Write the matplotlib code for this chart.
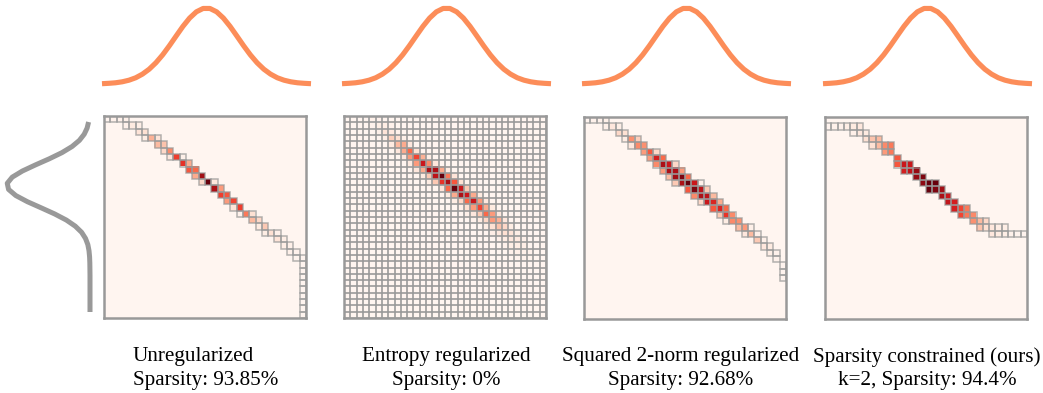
import numpy as np
import matplotlib
matplotlib.use("Agg")
import matplotlib.pyplot as plt
from matplotlib.patches import Rectangle

## marginals (peak normalised to 1)
b_top = [0.004, 0.009, 0.016, 0.029, 0.05, 0.082, 0.13, 0.195, 0.28, 0.384, 0.504,
         0.632, 0.758, 0.868, 0.95, 0.994, 0.994, 0.95, 0.868, 0.758, 0.632, 0.504,
         0.384, 0.28, 0.195, 0.13, 0.082, 0.05, 0.029, 0.016, 0.009, 0.004]
a_left = [0.017, 0.035, 0.07, 0.128, 0.216, 0.338, 0.49, 0.657, 0.815, 0.937, 0.997,
          0.981, 0.894, 0.755, 0.589, 0.426, 0.285, 0.177, 0.101, 0.054, 0.026, 0.012,
          0.005, 0.002, 0.001, 0.0, 0.0, 0.0, 0.0, 0.0, 0.0, 0.0]

## transport plans: row r holds nonzeros at columns start[r] .. start[r]+len(vals[r])-1
unreg_start = [0, 3, 5, 6, 8, 9, 10, 12, 13, 14, 15, 17, 18, 19, 20, 21, 23, 24, 25, 27,
               28, 29, 30, 31, 31, 31, 31, 31, 31, 31, 31, 31]
unreg_vals = [[0.01, 0.02, 0.02, 0.03], [0.02, 0.06, 0.04], [0.1, 0.12], [0.05, 0.28, 0.1],
              [0.25, 0.22], [0.15, 0.4], [0.08, 0.62, 0.03], [0.66, 0.3], [0.55, 0.5],
              [0.3, 0.88], [0.15, 1.0, 0.08], [0.85, 0.35], [0.62, 0.55], [0.35, 0.6],
              [0.1, 0.62], [0.02, 0.45, 0.12], [0.25, 0.15], [0.06, 0.2], [0.05, 0.12, 0.03],
              [0.1, 0.04], [0.04, 0.03], [0.03, 0.02], [0.015, 0.01], [0.005], [0.005],
              [0.005], [0.005], [0.005], [0.005], [0.005], [0.005], [0.005]]

entropy_start = [3, 4, 5, 6, 7, 8, 9, 10, 11, 12, 13, 15, 16, 17, 18, 19, 20, 22, 23, 24,
                 25, 26, 27]
entropy_vals = [[0.01, 0.03, 0.02, 0.01], [0.02, 0.05, 0.05, 0.02], [0.03, 0.1, 0.07, 0.02],
                [0.04, 0.18, 0.12, 0.03], [0.06, 0.25, 0.3, 0.08], [0.08, 0.3, 0.5, 0.12],
                [0.08, 0.35, 0.6, 0.28, 0.04], [0.06, 0.35, 0.75, 0.4, 0.08],
                [0.08, 0.3, 0.85, 0.85, 0.3, 0.06], [0.06, 0.2, 0.8, 1.0, 0.45, 0.1],
                [0.05, 0.2, 0.65, 0.85, 0.55, 0.12, 0.02], [0.1, 0.5, 1.0, 0.75, 0.2, 0.04],
                [0.06, 0.3, 0.85, 0.75, 0.3, 0.06], [0.05, 0.15, 0.5, 0.75, 0.35, 0.08],
                [0.03, 0.12, 0.35, 0.6, 0.3, 0.06], [0.03, 0.08, 0.2, 0.5, 0.35, 0.08],
                [0.02, 0.06, 0.15, 0.35, 0.28, 0.08], [0.05, 0.12, 0.22, 0.15, 0.05],
                [0.04, 0.08, 0.12, 0.1, 0.04], [0.03, 0.05, 0.08, 0.07, 0.03],
                [0.02, 0.04, 0.05, 0.04], [0.02, 0.03, 0.03, 0.02], [0.01, 0.02, 0.015]]
entropy_floor = 0.001  # every other cell is tiny but nonzero

sq2_start = [0, 3, 5, 6, 7, 9, 10, 11, 12, 13, 14, 16, 17, 18, 20, 21, 22, 24, 25, 27,
             28, 29, 30, 31, 31, 31]
sq2_vals = [[0.01, 0.02, 0.02, 0.03], [0.03, 0.08, 0.04], [0.15, 0.12], [0.05, 0.38, 0.18],
            [0.08, 0.4, 0.38], [0.35, 0.55, 0.15], [0.35, 0.72, 0.5],
            [0.4, 0.85, 0.75, 0.15], [0.35, 0.85, 0.85, 0.35], [0.25, 0.88, 0.95, 0.5],
            [0.2, 0.85, 1.0, 0.75, 0.03], [0.55, 0.95, 0.8, 0.2], [0.4, 0.85, 0.8, 0.25],
            [0.15, 0.75, 0.7, 0.3], [0.55, 0.7, 0.5], [0.2, 0.65, 0.4], [0.05, 0.4, 0.38],
            [0.25, 0.35, 0.03], [0.08, 0.25, 0.03], [0.2, 0.03], [0.08, 0.06], [0.04, 0.02],
            [0.02], [0.01], [0.01], [0.01]]

sparse_start = [None, 0, 4, 6, 7, 9, 11, 11, 12, 14, 15, 16, 18, 19, 20, 21, 23, 24, 26]
sparse_vals = [[], [0.01, 0.02, 0.02, 0.04, 0.06, 0.08], [0.03, 0.08, 0.06],
               [0.12, 0.22, 0.25], [0.12, 0.25, 0.4, 0.45], [0.35, 0.45], [0.55],
               [0.55, 0.75, 0.75], [0.72, 0.78, 0.9], [0.9, 0.95], [0.92, 1.0, 1.0],
               [1.0, 0.95, 0.88], [0.85, 0.75], [0.78, 0.72], [0.72, 0.6, 0.45],
               [0.6, 0.45, 0.4], [0.38, 0.25, 0.15], [0.22, 0.12, 0.08, 0.05, 0.04],
               [0.08, 0.06, 0.04, 0.02, 0.01, 0.01]]

titles = ["Unregularized", "Entropy regularized", "Squared 2-norm regularized",
          "Sparsity constrained (ours)"]
subtitles = ["Sparsity: 93.85%", "Sparsity: 0%", "Sparsity: 92.68%", "k=2, Sparsity: 94.4%"]

n = 32
W, H = 1043, 393


def build(start, vals, floor=0.0):
    P = np.full((n, n), floor)
    for r, (s, v) in enumerate(zip(start, vals)):
        if s is None:
            continue
        P[r, s:s + len(v)] = v
    return P


plans = [build(unreg_start, unreg_vals), build(entropy_start, entropy_vals, entropy_floor),
         build(sq2_start, sq2_vals), build(sparse_start, sparse_vals)]


def px_axes(fig, x0, y0, x1, y1):
    return fig.add_axes([x0 / W, 1 - y1 / H, (x1 - x0) / W, (y1 - y0) / H])


fig = plt.figure(figsize=(W / 100, H / 100), dpi=100)

mat_x = [104, 344, 584, 825]
mat_y = [116, 116, 117, 117]
size = 202
line_orange = "#fc8d59"
edge_gray = "#999999"

for k, P in enumerate(plans):
    x0, y0 = mat_x[k], mat_y[k]
    ax = px_axes(fig, x0, y0, x0 + size, y0 + size)
    ax.imshow(P, cmap="Reds", vmin=0, vmax=P.max(), interpolation="nearest",
              extent=(-0.5, n - 0.5, n - 0.5, -0.5), aspect="auto")
    rr, cc = np.nonzero(P)
    for r, c in zip(rr, cc):
        ax.add_patch(Rectangle((c - 0.5, r - 0.5), 1, 1, fill=False,
                               edgecolor=edge_gray, lw=1.1, alpha=0.75))
    ax.set_xlim(-0.5, n - 0.5)
    ax.set_ylim(n - 0.5, -0.5)
    ax.set_xticks([])
    ax.set_yticks([])
    for sp in ax.spines.values():
        sp.set_edgecolor(edge_gray)
        sp.set_linewidth(1.8)

    # target marginal above each plan
    axt = px_axes(fig, x0 - 2, 8, x0 + size + 5, 84)
    axt.plot(np.arange(n), b_top, color=line_orange, lw=3.7, clip_on=False,
             solid_capstyle="butt")
    axt.set_xlim(0, n - 1)
    axt.set_ylim(0, 1)
    axt.axis("off")

# source marginal on the left
axl = px_axes(fig, 7, 122, 90, 312)
axl.plot(-np.array(a_left), np.arange(n), color=edge_gray, lw=3.6, clip_on=False,
         solid_capstyle="butt")
axl.set_xlim(-1, 0)
axl.set_ylim(n - 1, 0)
axl.axis("off")

# labels under the plans
font = dict(family=["Liberation Serif", "DejaVu Serif"], fontsize=15.2)
label_x = [133, 446, 681, 927]
label_ha = ["left", "center", "center", "center"]
for k in range(4):
    fig.text(label_x[k] / W, 1 - 357 / H, titles[k], ha=label_ha[k], va="center", **font)
    fig.text(label_x[k] / W, 1 - 381 / H, subtitles[k], ha=label_ha[k], va="center", **font)

fig.savefig("out.png", dpi=100)
